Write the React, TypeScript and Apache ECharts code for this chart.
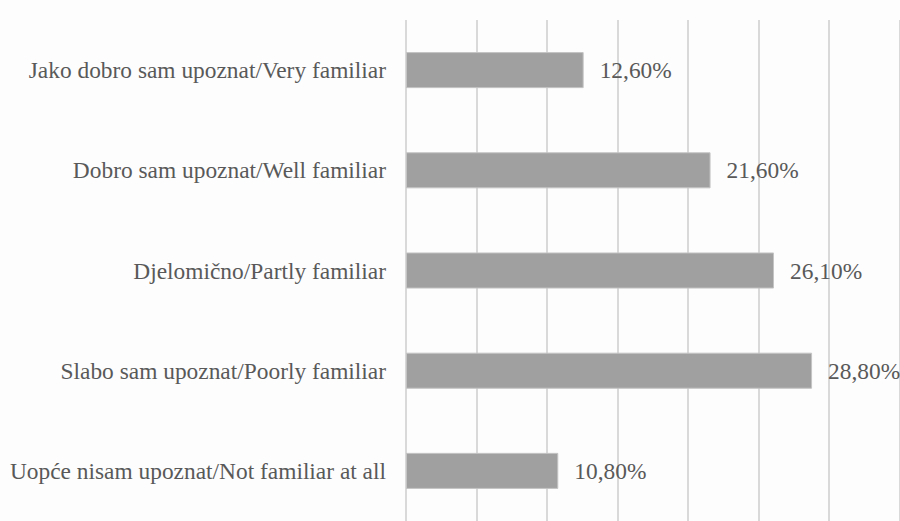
import React, { useEffect, useRef } from "react";
import * as echarts from "echarts";

const categories = [
  "Jako dobro sam upoznat/Very familiar",
  "Dobro sam upoznat/Well familiar",
  "Djelomično/Partly familiar",
  "Slabo sam upoznat/Poorly familiar",
  "Uopće nisam upoznat/Not familiar at all",
];
const values = [12.6, 21.6, 26.1, 28.8, 10.8];

const FONT = "serif";

export default function App() {
  const ref = useRef<HTMLDivElement>(null);
  useEffect(() => {
    if (!ref.current) return;
    const chart = echarts.init(ref.current, undefined, { renderer: "svg" });
    chart.setOption({
      animation: false,
      backgroundColor: "#fdfdfd",
      grid: { left: 406, top: 20, width: 493.5, height: 503, containLabel: false },
      xAxis: {
        type: "value",
        min: 0,
        max: 35,
        interval: 5,
        axisLabel: { show: false },
        axisLine: { show: false },
        axisTick: { show: false },
        splitLine: { show: true, lineStyle: { color: "#d9d9d9", width: 2 } },
      },
      yAxis: {
        type: "category",
        inverse: true,
        data: categories,
        axisLine: { show: false },
        axisTick: { show: false },
        axisLabel: {
          color: "#595959",
          fontFamily: FONT,
          fontSize: 23.4,
          margin: 20,
        },
      },
      series: [
        {
          type: "bar",
          data: values,
          barCategoryGap: "64%",
          itemStyle: { color: "#a0a0a0", borderColor: "#c4c4c4", borderWidth: 1 },
          label: {
            show: true,
            position: "right",
            distance: 16,
            color: "#595959",
            fontFamily: FONT,
            fontSize: 23.4,
            formatter: (p: any) => p.value.toFixed(2).replace(".", ",") + "%",
          },
        },
      ],
    });
    return () => chart.dispose();
  }, []);
  return (
    <div
      ref={ref}
      style={{ position: "fixed", left: 0, top: 0, width: 900, height: 521 }}
    />
  );
}
